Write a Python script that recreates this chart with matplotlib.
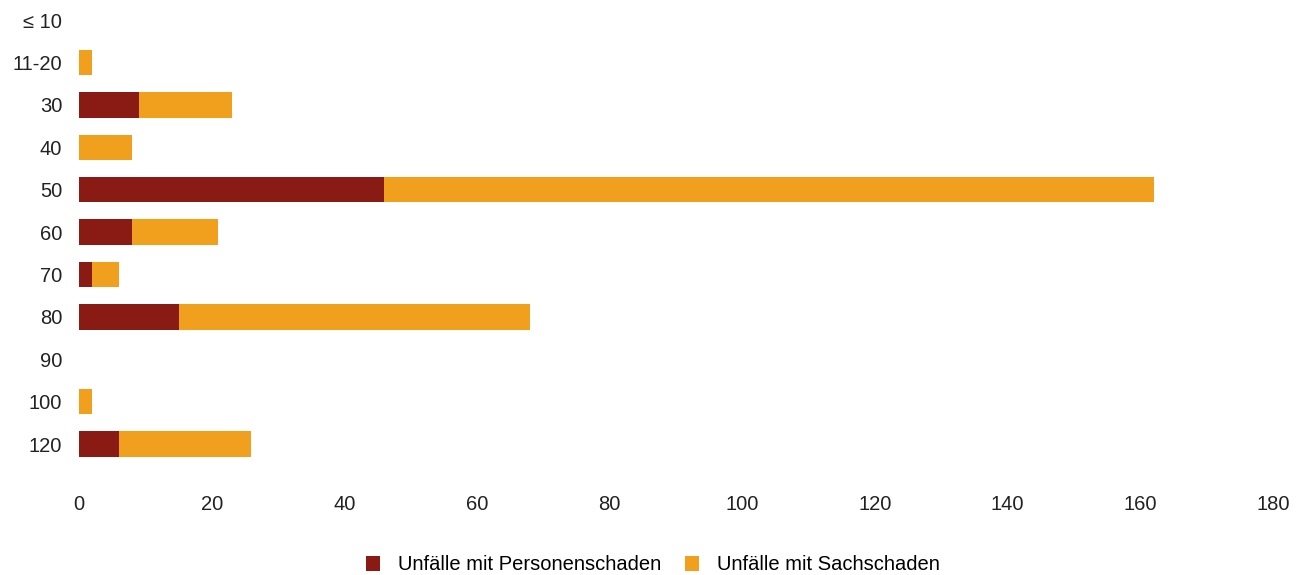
import matplotlib
matplotlib.use("Agg")
import matplotlib.pyplot as plt
import numpy as np

plt.rcParams["font.family"] = ["Liberation Sans", "DejaVu Sans"]

# Data: accidents per speed limit category
categories = ["≤ 10", "11-20", "30", "40", "50", "60", "70", "80", "90", "100", "120"]
personenschaden = [0, 0, 9, 0, 46, 8, 2, 15, 0, 0, 6]
sachschaden = [0, 2, 14, 8, 116, 13, 4, 53, 0, 2, 20]

red = "#8a1b14"
orange = "#f0a01c"

fig = plt.figure(figsize=(13.06, 5.75), dpi=100)
ax = fig.add_axes([79 / 1306, 1 - 470 / 575, (1273 - 79) / 1306, 470 / 575])

y = np.arange(len(categories))
ax.barh(y, personenschaden, height=0.6, color=red, label="Unfälle mit Personenschaden")
ax.barh(y, sachschaden, height=0.6, left=personenschaden, color=orange,
        label="Unfälle mit Sachschaden")

ax.set_xlim(0, 180)
ax.set_ylim(10.61, -0.472)
ax.set_xticks(np.arange(0, 181, 20))
ax.set_yticks(y)
ax.set_yticklabels(categories)
ax.tick_params(axis="both", length=0, labelsize=14.5, colors="#222222")
ax.tick_params(axis="x", pad=18)
ax.tick_params(axis="y", pad=12)
for s in ax.spines.values():
    s.set_visible(False)

fig.legend(loc="center", bbox_to_anchor=(0.5, 1 - 565 / 575), ncol=2, frameon=False,
           fontsize=14.5, handlelength=0.7, handleheight=0.7, handletextpad=0.9,
           columnspacing=1.2)

fig.savefig("out.png", dpi=100)
